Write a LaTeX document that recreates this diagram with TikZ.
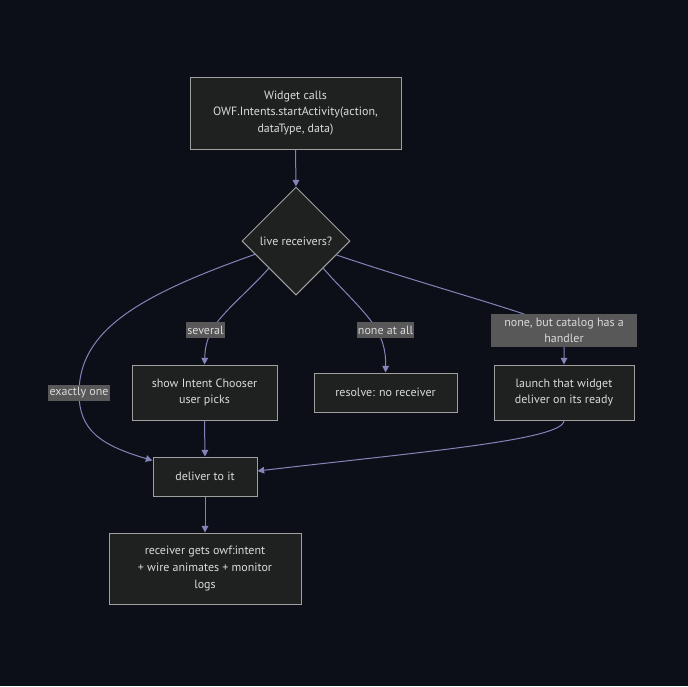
\documentclass[tikz,border=0pt]{standalone}
\usepackage{fontspec}
\setmainfont{PT Sans}
\usetikzlibrary{arrows.meta,shapes.geometric}
\definecolor{bgcol}{RGB}{13,15,24}
\definecolor{boxfill}{RGB}{31,32,32}
\definecolor{boxline}{RGB}{160,160,160}
\definecolor{linecol}{RGB}{132,132,184}
\definecolor{labfill}{RGB}{88,88,88}
\definecolor{txtcol}{RGB}{218,218,218}
\tikzset{
  >={Triangle[length=5pt,width=5pt]},
  stepbox/.style={rectangle, draw=boxline, fill=boxfill, line width=0.75pt, text=txtcol,
                  align=center, inner sep=0pt, font=\fontsize{9}{12.5}\selectfont},
  decide/.style={diamond, draw=boxline, fill=boxfill, line width=0.75pt, text=txtcol,
                 inner sep=0pt, minimum width=81pt, minimum height=81pt,
                 font=\fontsize{9}{12.5}\selectfont},
  flow/.style={draw=linecol, line width=0.75pt, ->},
  lab/.style={fill=labfill, text=txtcol, align=center, inner xsep=1pt, inner ysep=0pt,
              minimum height=12pt, font=\fontsize{9}{12.5}\selectfont}
}

\begin{document}
\begin{tikzpicture}[x=0.75pt,y=-0.75pt]
  % background and page size
  \fill[bgcol] (0,0) rectangle (688,686);
  \useasboundingbox (0,0) rectangle (688,686);

  % boxes
  \node[stepbox, minimum width=158.25pt, minimum height=54pt] (call) at (295.5,113)
    {Widget calls\\OWF.Intents.startActivity(action,\\dataType, data)};
  \node[decide] (live) at (296,241) {live receivers?};
  \node[stepbox, minimum width=108.75pt, minimum height=41.25pt] (chooser) at (204.5,392.5)
    {show Intent Chooser\\user picks};
  \node[stepbox, minimum width=107.25pt, minimum height=29.25pt] (noreceiver) at (385.5,392.5)
    {resolve: no receiver};
  \node[stepbox, minimum width=105pt, minimum height=41.25pt] (launch) at (564,392.5)
    {launch that widget\\deliver on its ready};
  \node[stepbox, minimum width=78pt, minimum height=29.25pt] (deliver) at (205,476.5)
    {deliver to it};
  \node[stepbox, minimum width=144pt, minimum height=53.25pt] (gets) at (205,568.5)
    {receiver gets owf:intent\\+ wire animates + monitor\\logs};

  % connectors
  \draw[flow] (call.south) -- (live.north);
  \draw[flow] (live.198) .. controls (140,295) and (79,330) .. (79,393)
    node[lab] (lone) {exactly one}
    .. controls (79,430) and (100,445) .. (deliver.163);
  \draw[flow] (live.south west) .. controls (250,290) and (222,312) .. (212,330)
    node[lab] (lseveral) at (205.5,330) {several}
    .. controls (206,341) and (205,350) .. (chooser.north);
  \draw[flow] (live.south east) .. controls (340,288) and (367,312) .. (377,330)
    node[lab] (lnone) at (385.5,330) {none at all}
    .. controls (383,341) and (386,352) .. (noreceiver.north);
  \draw[flow] (live.-19) .. controls (440,290) and (540,315) .. (564,330.5)
    node[lab, minimum width=109.5pt, minimum height=24.75pt] (lcatalog)
      {none, but catalog has a\\handler}
    .. controls (564,350) .. (launch.north);
  \draw[flow] (chooser.south) -- (deliver.north);
  \draw[flow] (launch.south) .. controls (564,440) and (420,452) .. (deliver.6);
  \draw[flow] (deliver.south) -- (gets.north);
\end{tikzpicture}
\end{document}
